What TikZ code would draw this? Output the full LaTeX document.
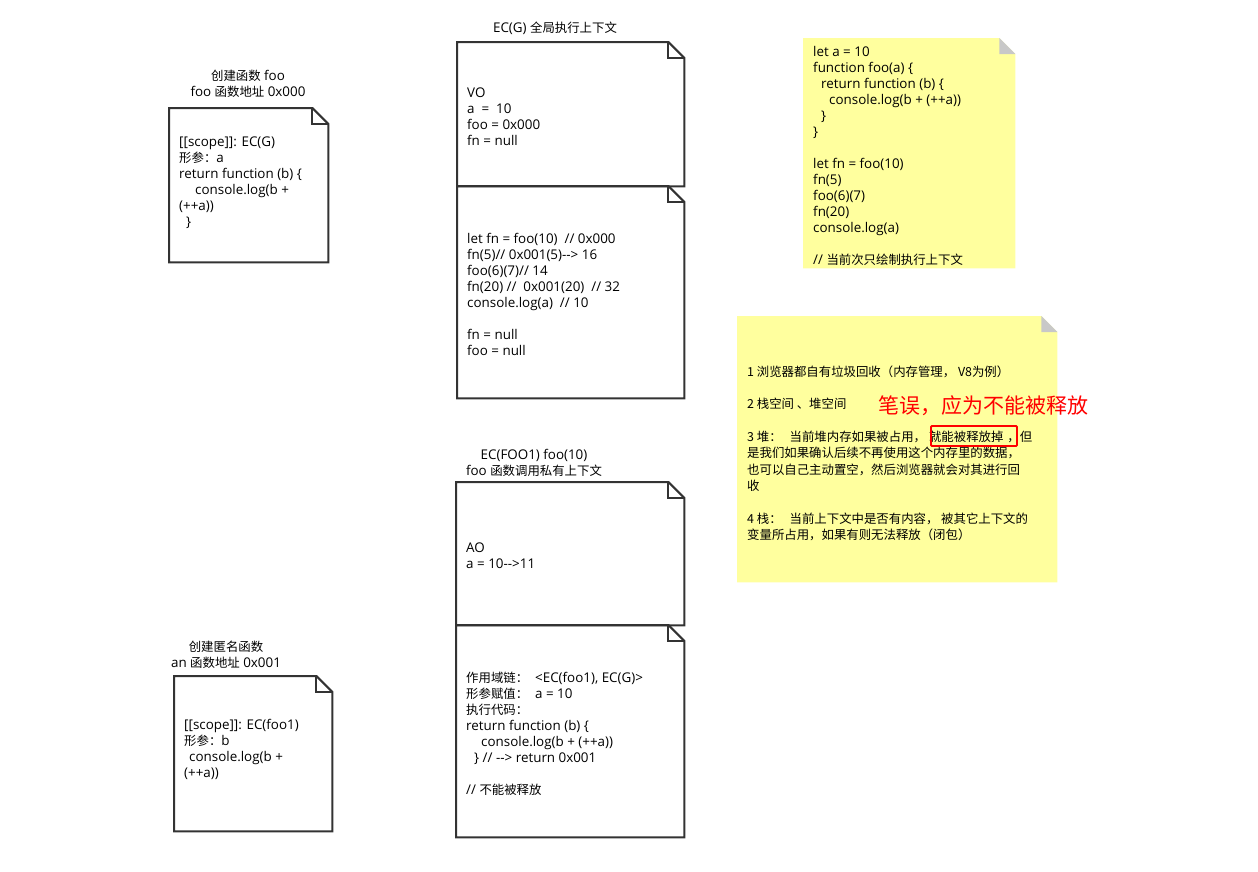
\documentclass[tikz,border=0pt]{standalone}
\usepackage{fontspec}
\setmainfont{Open Sans}[Scale=1.08]
\newfontfamily\zhfont{Noto Sans CJK SC}
\newcommand{\zh}[1]{{\zhfont #1}}
\usetikzlibrary{positioning, backgrounds}
\definecolor{ecline}{HTML}{333333}
\definecolor{notefill}{HTML}{FFFF9E}
\definecolor{notefold}{HTML}{C8C8C8}
\definecolor{errred}{HTML}{FF0000}
\tikzset{
  ecbox/.style    = {anchor=north west, inner sep=0pt},
  ectext/.style   = {font=\fontsize{12.4}{16}\selectfont, align=left,
                     inner sep=0pt},
  ectitle/.style  = {font=\fontsize{12.4}{16}\selectfont, align=center,
                     inner sep=0pt},
  ecedge/.style   = {draw=ecline, line width=2pt, line join=miter},
  errmark/.style  = {draw=errred, line width=1.8pt, rounded corners=1pt,
                     inner sep=0pt},
  errtext/.style  = {font=\zhfont\fontsize{21}{24}\selectfont, text=errred,
                     anchor=west, inner sep=0pt},
}

\begin{document}
\begin{tikzpicture}[x=1pt, y=-1pt]
  \useasboundingbox (0,0) rectangle (1258,871);

  % boxes
  \node[ecbox, minimum width=159pt, minimum height=154pt] (foo) at (169,108) {};
  \node[ecbox, minimum width=158pt, minimum height=155pt] (anon) at (174,676) {};
  \node[ecbox, minimum width=227pt, minimum height=144pt] (ecgvo) at (457,42) {};
  \node[ecbox, minimum width=227pt, minimum height=212pt] (ecgcode) at (457,186) {};
  \node[ecbox, minimum width=228pt, minimum height=143pt] (foo1ao) at (456,482) {};
  \node[ecbox, minimum width=228pt, minimum height=212pt] (foo1code) at (456,625) {};
  \node[ecbox, minimum width=212pt, minimum height=230pt] (notecode) at (803,38) {};
  \node[ecbox, minimum width=320pt, minimum height=266pt] (noteheap) at (737,316) {};

  % titles
  \node[ectitle] (footitle) at (248,84) {\zh{创建函数} foo\\foo \zh{函数地址} 0x000};
  \node[ectitle] (anontitle) at (226,655) {\zh{创建匿名函数}\\an \zh{函数地址} 0x001};
  \node[ectitle] (ecgtitle) at (555,28) {EC(G) \zh{全局执行上下文}};
  \node[ectitle] (foo1title) at (534,463) {EC(FOO1) foo(10)\\foo \zh{函数调用私有上下文}};

  % texts
  \node[ectext, right=10pt of foo.west, yshift=2pt] (footxt)
       {{[}[scope]]: EC(G)\\\zh{形参：}a\\return function (b) \{\\
        \hspace*{16pt}console.log(b +\\(++a))\\\hspace*{7pt}\}};
  \node[ectext, right=10pt of anon.west, yshift=4pt] (anontxt)
       {{[}[scope]]: EC(foo1)\\\zh{形参：}b\\\hspace*{5pt}console.log(b +\\(++a))};
  \node[ectext, right=10pt of ecgvo.west, yshift=-3pt] (ecgvotxt)
       {VO\\a\ \ =\ \ 10\\foo = 0x000\\fn = null};
  \node[ectext, right=10pt of ecgcode.west, yshift=-2pt] (ecgcodetxt)
       {let fn = foo(10)\ \ // 0x000\\fn(5)// 0x001(5)-{}-> 16\\foo(6)(7)// 14\\
        fn(20) //\ \ 0x001(20)\ \ // 32\\console.log(a)\ \ // 10\\[16pt]
        fn = null\\foo = null};
  \node[ectext, right=10pt of foo1ao.west, yshift=-2pt] (foo1aotxt)
       {AO\\a = 10-{}->11};
  \node[ectext, right=10pt of foo1code.west, yshift=-3pt] (foo1codetxt)
       {\zh{作用域链：}\ \ <EC(foo1), EC(G)>\\\zh{形参赋值：}\ \ a = 10\\\zh{执行代码：}\\
        return function (b) \{\\\hspace*{15pt}console.log(b + (++a))\\
        \hspace*{8pt}\} // -{}-> return 0x001\\[16pt]// \zh{不能被释放}};
  \node[ectext, right=10pt of notecode.west, yshift=-3pt] (notecodetxt)
       {let a = 10\\function foo(a) \{\\\hspace*{8pt}return function (b) \{\\
        \hspace*{16pt}console.log(b + (++a))\\\hspace*{8pt}\}\\\}\\[16pt]
        let fn = foo(10)\\fn(5)\\foo(6)(7)\\fn(20)\\console.log(a)\\[16pt]
        // \zh{当前次只绘制执行上下文}};
  \node[ectext, font=\zhfont\fontsize{12.4}{16.3}\selectfont,
        right=10pt of noteheap.west, yshift=-4pt] (noteheaptxt)
       {1 浏览器都自有垃圾回收（内存管理， V8为例）\\[16.3pt]
        2 栈空间 、堆空间\\[16.3pt]
        3 堆：\hspace*{8pt}当前堆内存如果被占用，\hspace*{3pt}就能被释放掉\hspace*{4pt}，但\\
        是我们如果确认后续不再使用这个内存里的数据，\\
        也可以自己主动置空，然后浏览器就会对其进行回\\收\\[16.3pt]
        4 栈：\hspace*{8pt}当前上下文中是否有内容，\ 被其它上下文的\\
        变量所占用，如果有则无法释放（闭包）};

  \node[errmark, minimum width=86pt, minimum height=20pt] (errbox) at (974,436) {};
  \node[errtext] (errnote) at (878,406) {笔误，应为不能被释放};

  \begin{scope}[on background layer]
    \foreach \n in {notecode, noteheap} {
      \fill[notefill] (\n.north west) -- ([xshift=-16pt]\n.north east)
        -- ([yshift=-16pt]\n.north east) -- (\n.south east) -- (\n.south west) -- cycle;
      \fill[notefold] ([xshift=-16pt]\n.north east) -- ([yshift=-16pt]\n.north east)
        -- ([xshift=-16pt, yshift=-16pt]\n.north east) -- cycle;
    }
  \end{scope}
  \foreach \n in {foo, anon, ecgvo, ecgcode, foo1ao, foo1code} {
    \draw[ecedge] (\n.north west) -- ([xshift=-16pt]\n.north east)
      -- ([yshift=-16pt]\n.north east) -- (\n.south east) -- (\n.south west) -- cycle;
    \draw[ecedge] ([xshift=-16pt]\n.north east) |- ([yshift=-16pt]\n.north east);
  }
\end{tikzpicture}
\end{document}
